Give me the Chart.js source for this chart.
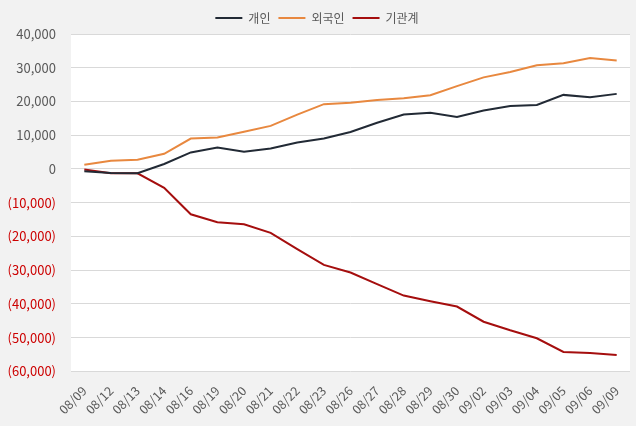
<!DOCTYPE html>
<html>
<head>
<meta charset="utf-8">
<script src="https://cdn.jsdelivr.net/npm/chart.js@4"></script>
<style>
  html, body { margin: 0; padding: 0; background: #f2f2f2; }
  #wrap { width: 636px; height: 426px; }
</style>
</head>
<body>
<div id="wrap"><canvas id="myChart"></canvas></div>
<script>
const labels = ['08/09', '08/12', '08/13', '08/14', '08/16', '08/19', '08/20', '08/21', '08/22', '08/23',
    '08/26', '08/27', '08/28', '08/29', '08/30', '09/02', '09/03', '09/04', '09/05', '09/06', '09/09'];

const individual = [-700, -1200, -1250, 1450, 4900, 6350, 5100, 6050, 7850, 9000,
    10950, 13700, 16150, 16650, 15400, 17300, 18650, 18950, 21950, 21250, 22250];
const foreign = [1250, 2450, 2750, 4500, 9000, 9300, 11050, 12750, 16100, 19200,
    19600, 20450, 20950, 21850, 24550, 27150, 28750, 30750, 31350, 32850, 32150];
const institution = [-200, -1250, -1300, -5600, -13450, -15800, -16400, -18950, -23800, -28450,
    -30700, -34150, -37550, -39250, -40800, -45300, -47850, -50200, -54250, -54550, -55200];

const font = "'Noto Sans CJK KR', 'Noto Sans', sans-serif";

// white plot area on the grey page
const plotBg = {
    id: 'plotBg',
    beforeDraw(chart) {
        const a = chart.chartArea;
        const c = chart.ctx;
        c.save();
        c.fillStyle = '#ffffff';
        c.fillRect(a.left, a.top, a.right - a.left, a.bottom - a.top);
        c.restore();
    }
};

function fmt(v) {
    const s = Math.abs(v).toLocaleString('en-US');
    return v < 0 ? '(' + s + ')' : s;
}

const ctx = document.querySelector('#myChart');
const myChart = new Chart(ctx, {
    type: 'line',
    data: {
        labels: labels,
        datasets: [
            { label: '개인', data: individual, borderColor: '#222a35', backgroundColor: '#222a35' },
            { label: '외국인', data: foreign, borderColor: '#e8883f', backgroundColor: '#e8883f' },
            { label: '기관계', data: institution, borderColor: '#a50e0e', backgroundColor: '#a50e0e' }
        ]
    },
    options: {
        responsive: true,
        maintainAspectRatio: false,
        animation: false,
        datasets: {
            line: { borderWidth: 2, pointRadius: 0, pointStyle: 'line', tension: 0 }
        },
        layout: { padding: { left: 4, right: 6, top: 4, bottom: 5 } },
        plugins: {
            legend: {
                position: 'top',
                labels: {
                    usePointStyle: true,
                    pointStyleWidth: 27,
                    boxHeight: 10,
                    padding: 8,
                    color: '#595959',
                    font: { family: font, size: 12 }
                }
            },
            tooltip: { enabled: false }
        },
        scales: {
            x: {
                offset: true,
                grid: { display: false },
                border: { display: false },
                ticks: {
                    color: '#595959',
                    autoSkip: false,
                    maxRotation: 45,
                    minRotation: 45,
                    padding: 4,
                    font: { family: font, size: 12.5 }
                }
            },
            y: {
                min: -60000,
                max: 40000,
                border: { display: false },
                grid: { color: '#d9d9d9', drawTicks: false },
                afterFit: function (scale) {
                    scale.width = 67;
                },
                ticks: {
                    stepSize: 10000,
                    padding: 15,
                    callback: function (value) {
                        return fmt(value);
                    },
                    color: function (c) {
                        return c.tick && c.tick.value < 0 ? '#cc0000' : '#595959';
                    },
                    font: { family: font, size: 13 }
                }
            }
        }
    },
    plugins: [plotBg]
});
</script>
</body>
</html>
